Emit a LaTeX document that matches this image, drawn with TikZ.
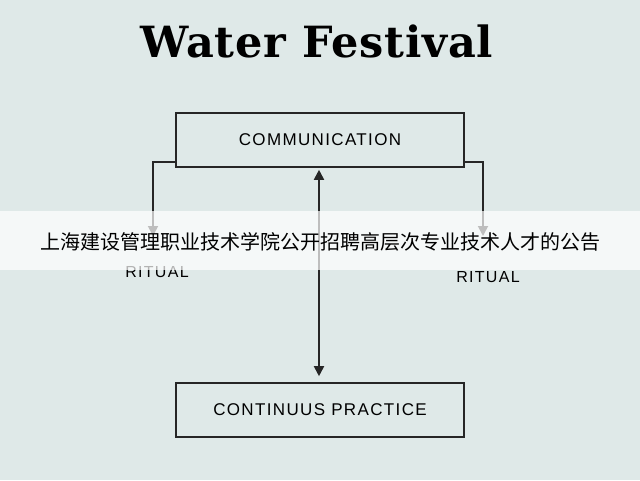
\documentclass[tikz,border=0pt]{standalone}
\usepackage{fontspec}
\setmainfont{Liberation Serif}
\newfontfamily\titlefont[LetterSpace=2]{DejaVu Serif}
\newfontfamily\boxfont[LetterSpace=8]{Liberation Sans}
\newfontfamily\cjk{Noto Sans CJK SC}
\usetikzlibrary{arrows.meta}
\definecolor{bg}{HTML}{DFE9E8}
\begin{document}
\begin{tikzpicture}[x=1pt,y=-1pt,
  box/.style={draw=black!85,line width=1.6pt,fill=bg,minimum width=288pt,minimum height=54pt,font=\boxfont\fontsize{17}{17}\selectfont},
  lab/.style={font=\boxfont\fontsize{16}{16}\selectfont},
  conn/.style={line width=1.8pt,black!85},
  tip/.style={-{Triangle[length=10pt,width=10pt]}}]
\fill[bg] (0,0) rectangle (640,480);
\useasboundingbox (0,0) rectangle (640,480);
\node[font=\titlefont\bfseries\fontsize{43}{43}\selectfont] (title) at (317,41) {Water Festival};
\node[box] (comm) at (320,140) {COMMUNICATION};
\node[box] (cont) at (320,410) {CONTINUUS PRACTICE};
\node[lab] (r1) at (157,272) {RITUAL};
\node[lab] (r2) at (488,277) {RITUAL};
\coordinate (l1) at (153,162); \coordinate (l2) at (153,236);
\coordinate (q1) at (483,162); \coordinate (q2) at (483,236);
\draw[conn,tip] (comm.west|-l1) -- (l1) -- (l2);
\draw[conn,tip] (comm.east|-q1) -- (q1) -- (q2);
\draw[conn,{Triangle[length=10pt,width=10pt]}-{Triangle[length=10pt,width=10pt]}] ([yshift=-2pt]comm.south-|319,0) -- ([yshift=6pt]cont.north-|319,0);
\fill[white,opacity=0.7] (0,211) rectangle (640,270);
\node[font=\cjk\fontsize{20}{20}\selectfont] (banner) at (320,242) {上海建设管理职业技术学院公开招聘高层次专业技术人才的公告};
\end{tikzpicture}
\end{document}
